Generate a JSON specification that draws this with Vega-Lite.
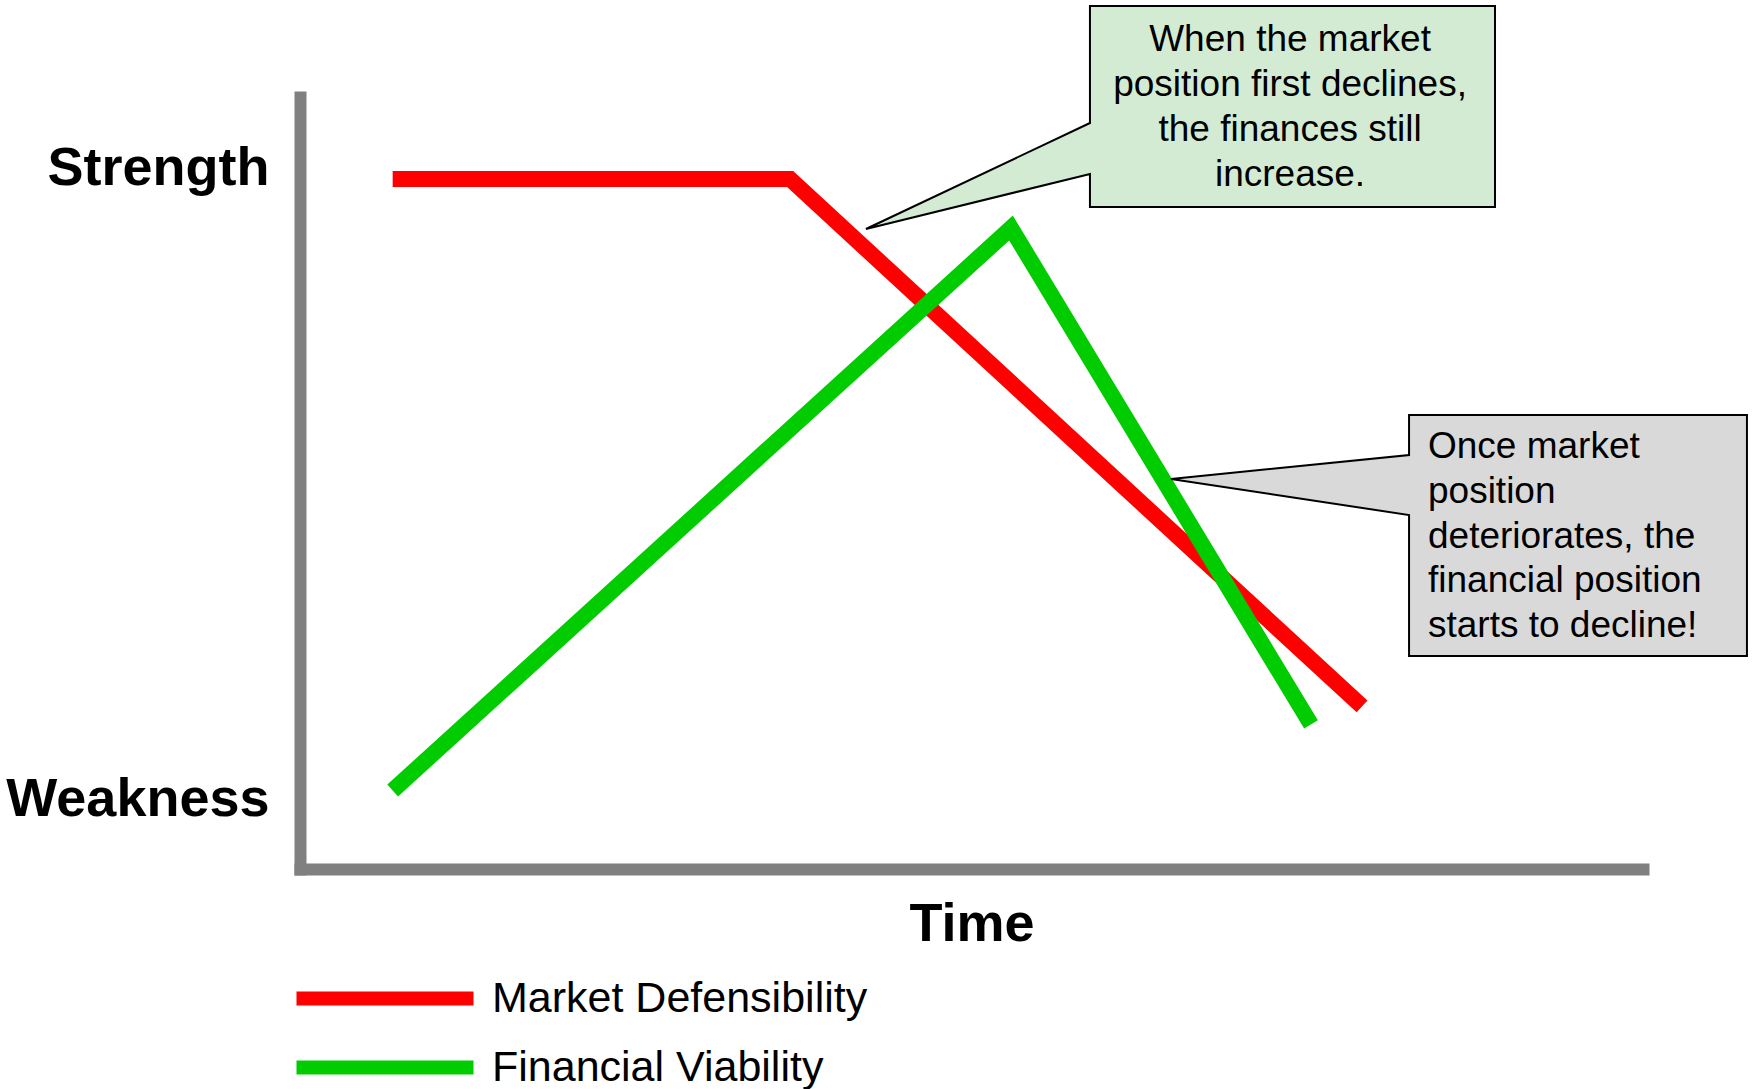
{
  "$schema": "https://vega.github.io/schema/vega-lite/v6.json",
  "width": 1343,
  "height": 772,
  "autosize": {"type": "none"},
  "padding": {"left": 300, "top": 97, "right": 109, "bottom": 220},
  "background": "white",
  "config": {"view": {"stroke": null}, "font": "Liberation Sans"},
  "datasets": {
    "series": [
      {"series": "Market Defensibility", "step": 1, "time": 6.9, "strength": 89.38},
      {"series": "Market Defensibility", "step": 2, "time": 36.49, "strength": 89.38},
      {"series": "Market Defensibility", "step": 3, "time": 79.08, "strength": 21.05},
      {"series": "Financial Viability", "step": 1, "time": 6.9, "strength": 10.17},
      {"series": "Financial Viability", "step": 2, "time": 52.94, "strength": 83.03},
      {"series": "Financial Viability", "step": 3, "time": 75.28, "strength": 18.72}
    ],
    "callouts": [
      {"callout": "A", "i": 1, "time": 58.82, "strength": 111.79},
      {"callout": "A", "i": 2, "time": 88.98, "strength": 111.79},
      {"callout": "A", "i": 3, "time": 88.98, "strength": 85.75},
      {"callout": "A", "i": 4, "time": 58.82, "strength": 85.75},
      {"callout": "A", "i": 5, "time": 58.82, "strength": 90.03},
      {"callout": "A", "i": 6, "time": 42.14, "strength": 82.9},
      {"callout": "A", "i": 7, "time": 58.82, "strength": 96.63},
      {"callout": "A", "i": 8, "time": 58.82, "strength": 111.79},
      {"callout": "B", "i": 1, "time": 82.58, "strength": 58.81},
      {"callout": "B", "i": 2, "time": 107.74, "strength": 58.81},
      {"callout": "B", "i": 3, "time": 107.74, "strength": 27.59},
      {"callout": "B", "i": 4, "time": 82.58, "strength": 27.59},
      {"callout": "B", "i": 5, "time": 82.58, "strength": 45.85},
      {"callout": "B", "i": 6, "time": 64.85, "strength": 50.52},
      {"callout": "B", "i": 7, "time": 82.58, "strength": 53.63},
      {"callout": "B", "i": 8, "time": 82.58, "strength": 58.81}
    ],
    "notes": [
      {"callout": "A", "time": 73.72, "strength": 107.36, "text": "When the market\nposition first declines,\nthe finances still\nincrease."},
      {"callout": "B", "time": 83.99, "strength": 54.66, "text": "Once market\nposition\ndeteriorates, the\nfinancial position\nstarts to decline!"}
    ]
  },
  "encoding": {
    "x": {
      "field": "time", "type": "quantitative",
      "scale": {"domain": [0, 100], "nice": false, "zero": false},
      "axis": {
        "title": "Time", "grid": false, "ticks": false, "labels": false, "tickSize": 0,
        "domainColor": "#808080", "domainWidth": 12, "domainCap": "square",
        "titleFont": "Liberation Sans", "titleFontSize": 54, "titleFontWeight": "bold",
        "titleColor": "black", "titlePadding": 28
      }
    },
    "y": {
      "field": "strength", "type": "quantitative",
      "scale": {"domain": [0, 100], "nice": false, "zero": false},
      "axis": {
        "title": null, "grid": false, "ticks": false, "tickSize": 0,
        "values": [8.94, 90.8],
        "labelExpr": "datum.value > 50 ? 'Strength' : 'Weakness'",
        "domainColor": "#808080", "domainWidth": 12, "domainCap": "square",
        "labelFont": "Liberation Sans", "labelFontSize": 54, "labelFontWeight": "bold",
        "labelColor": "black", "labelPadding": 31, "labelOverlap": false, "labelBound": false,
        "labelLimit": 0
      }
    }
  },
  "layer": [
    {
      "data": {"name": "series"},
      "mark": {"type": "line", "strokeWidth": 16, "strokeCap": "butt", "strokeJoin": "miter", "clip": false},
      "encoding": {
        "color": {
          "field": "series", "type": "nominal",
          "scale": {"domain": ["Market Defensibility", "Financial Viability"], "range": ["#ff0000", "#00cc00"]},
          "legend": {
            "orient": "none", "legendX": -15, "legendY": 880, "title": null,
            "symbolType": "M-1,0H16.7", "symbolSize": 400, "symbolStrokeWidth": 14,
            "labelFont": "Liberation Sans", "labelFontSize": 43, "labelColor": "black",
            "labelOffset": 164, "rowPadding": 12, "padding": 0, "labelLimit": 0
          }
        },
        "order": {"field": "step"}
      }
    },
    {
      "data": {"name": "callouts"},
      "transform": [{"filter": "datum.callout === 'A'"}],
      "mark": {"type": "line", "fill": "#d3ebd3", "stroke": "black", "strokeWidth": 2, "strokeJoin": "miter", "strokeCap": "square", "clip": false},
      "encoding": {"order": {"field": "i"}}
    },
    {
      "data": {"name": "callouts"},
      "transform": [{"filter": "datum.callout === 'B'"}],
      "mark": {"type": "line", "fill": "#d9d9d9", "stroke": "black", "strokeWidth": 2, "strokeJoin": "miter", "strokeCap": "square", "clip": false},
      "encoding": {"order": {"field": "i"}}
    },
    {
      "data": {"name": "notes"},
      "transform": [{"filter": "datum.callout === 'A'"}],
      "mark": {"type": "text", "align": "center", "baseline": "middle", "lineBreak": "\n", "lineHeight": 44.8, "font": "Liberation Sans", "fontSize": 37, "color": "black", "clip": false},
      "encoding": {"text": {"field": "text"}}
    },
    {
      "data": {"name": "notes"},
      "transform": [{"filter": "datum.callout === 'B'"}],
      "mark": {"type": "text", "align": "left", "baseline": "middle", "lineBreak": "\n", "lineHeight": 44.8, "font": "Liberation Sans", "fontSize": 37, "color": "black", "clip": false},
      "encoding": {"text": {"field": "text"}}
    }
  ]
}
